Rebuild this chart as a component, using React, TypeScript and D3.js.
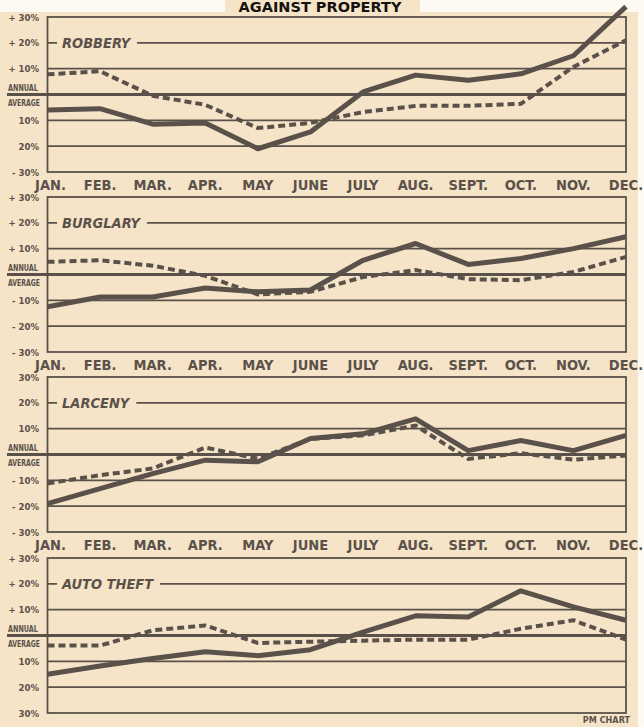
import { useEffect, useRef } from 'react';
import * as d3 from 'd3';

// Month categories along the bottom of each panel
const MONTHS = ['JAN.', 'FEB.', 'MAR.', 'APR.', 'MAY', 'JUNE', 'JULY', 'AUG.', 'SEPT.', 'OCT.', 'NOV.', 'DEC.'];
const CRIMES = ['ROBBERY', 'BURGLARY', 'LARCENY', 'AUTO THEFT'];

// % above / below annual average (solid and dashed series)
const ROBBERY_SOLID = [-6, -5.5, -11.5, -11, -21, -14.5, 1, 7.5, 5.5, 8, 15, 34];
const ROBBERY_DASHED = [7.8, 9, -0.5, -4, -13, -11, -6.8, -4.4, -4.4, -3.6, 10.7, 21];
const BURGLARY_SOLID = [-12.5, -8.7, -8.7, -5.2, -6.7, -6, 5.5, 12, 3.9, 6.2, 10, 14.6];
const BURGLARY_DASHED = [4.9, 5.5, 3.4, -0.5, -7.7, -6.7, -1, 1.7, -1.8, -2.2, 1, 6.8];
const LARCENY_SOLID = [-19, -13.2, -7.4, -2.2, -2.8, 6.2, 8, 13.8, 1.5, 5.4, 1.5, 7.4];
const LARCENY_DASHED = [-11.2, -8, -5.4, 2.7, -1.6, 6, 7.4, 11.2, -1.7, 0.5, -2, -0.4];
const AUTO_SOLID = [-15, -11.8, -8.9, -6.3, -7.8, -5.5, 1.3, 7.6, 7.2, 17.3, 11.1, 5.9];
const AUTO_DASHED = [-3.9, -3.9, 2, 3.9, -2.9, -2.4, -2, -1.6, -1.6, 2.6, 5.9, -1.6];

// y ticks and their printed labels (0 is the annual average line)
const TICK_VALUES = [30, 20, 10, 0, -10, -20, -30];
const ROBBERY_TICKS = ['+ 30%', '+ 20%', '+ 10%', '', '10%', '20%', '- 30%'];
const BURGLARY_TICKS = ['+ 30%', '+ 20%', '+ 10%', '', '- 10%', '- 20%', '- 30%'];
const LARCENY_TICKS = ['30%', '20%', '10%', '', '- 10%', '- 20%', '- 30%'];
const AUTO_TICKS = ['+ 30%', '+ 20%', '+ 10%', '', '10%', '20%', '30%'];

const PAPER = '#f6e4c8';
const INK = '#5a514a';
const FONT = '"Liberation Sans Narrow", "DejaVu Sans Condensed", sans-serif';

export default function App() {
  const svgRef = useRef<SVGSVGElement>(null);

  useEffect(() => {
    document.body.style.margin = '0';
    if (!svgRef.current) return;
    const svg = d3.select(svgRef.current);
    svg.selectAll('*').remove();

    const width = 644;
    const height = 727;

    // paper
    svg.append('rect').attr('width', width).attr('height', height).attr('fill', '#fdfaf4');
    svg.append('rect').attr('x', 0).attr('y', 12).attr('width', 638).attr('height', height - 12).attr('fill', PAPER);
    svg.append('rect').attr('x', 225).attr('y', 0).attr('width', 195).attr('height', 14).attr('fill', PAPER);

    svg.append('text')
      .attr('x', 320)
      .attr('y', 12)
      .attr('text-anchor', 'middle')
      .attr('font-family', '"DejaVu Sans", sans-serif')
      .attr('font-size', '14.5px')
      .attr('font-weight', 700)
      .attr('fill', '#151210')
      .text('AGAINST PROPERTY');

    const panels = [
      { name: CRIMES[0], solid: ROBBERY_SOLID, dashed: ROBBERY_DASHED, ticks: ROBBERY_TICKS },
      { name: CRIMES[1], solid: BURGLARY_SOLID, dashed: BURGLARY_DASHED, ticks: BURGLARY_TICKS },
      { name: CRIMES[2], solid: LARCENY_SOLID, dashed: LARCENY_DASHED, ticks: LARCENY_TICKS },
      { name: CRIMES[3], solid: AUTO_SOLID, dashed: AUTO_DASHED, ticks: AUTO_TICKS },
    ];
    const panelTops = [17, 197, 377, 558];
    const panelHeight = 155;
    const left = 47.5;
    const right = 626;

    const x = d3.scalePoint<string>().domain(MONTHS).range([left, right]);

    panels.forEach((p, i) => {
      const top = panelTops[i];
      const y = d3.scaleLinear().domain([-30, 30]).range([top + panelHeight, top]);
      const g = svg.append('g');

      // grid lines at +/-10, +/-20
      g.selectAll('line.grid')
        .data(TICK_VALUES.filter(v => Math.abs(v) === 10 || Math.abs(v) === 20))
        .join('line')
        .attr('x1', left)
        .attr('x2', right)
        .attr('y1', d => y(d))
        .attr('y2', d => y(d))
        .attr('stroke', INK)
        .attr('stroke-width', 1.6);

      // frame
      g.append('rect')
        .attr('x', left)
        .attr('y', top)
        .attr('width', right - left)
        .attr('height', panelHeight)
        .attr('fill', 'none')
        .attr('stroke', INK)
        .attr('stroke-width', 1.8);

      // annual average line, runs under the label
      g.append('line')
        .attr('x1', 7)
        .attr('x2', right)
        .attr('y1', y(0))
        .attr('y2', y(0))
        .attr('stroke', INK)
        .attr('stroke-width', 3);

      // crime name sitting on the +20% line
      const nameBg = g.append('rect').attr('fill', PAPER);
      const name = g.append('text')
        .attr('x', 62)
        .attr('y', y(20) + 5.5)
        .attr('font-family', FONT)
        .attr('font-size', '14.5px')
        .attr('font-weight', 700)
        .attr('font-style', 'italic')
        .attr('fill', INK)
        .text(p.name);
      const nameLen = (name.node() as SVGTextElement).getComputedTextLength();
      nameBg
        .attr('x', 57)
        .attr('y', y(20) - 4)
        .attr('width', nameLen + 12)
        .attr('height', 8);

      // tick labels
      TICK_VALUES.forEach((v, k) => {
        if (v === 0) return;
        g.append('text')
          .attr('x', 39)
          .attr('y', y(v) + 3.5)
          .attr('text-anchor', 'end')
          .attr('font-family', FONT)
          .attr('font-size', '9.5px')
          .attr('font-weight', 700)
          .attr('fill', INK)
          .text(p.ticks[k]);
      });
      g.append('text')
        .attr('x', 8)
        .attr('y', y(0) - 4)
        .attr('font-family', FONT)
        .attr('font-size', '9px')
        .attr('font-weight', 700)
        .attr('fill', INK)
        .attr('textLength', 30)
        .attr('lengthAdjust', 'spacingAndGlyphs')
        .text('ANNUAL');
      g.append('text')
        .attr('x', 8)
        .attr('y', y(0) + 11)
        .attr('font-family', FONT)
        .attr('font-size', '9px')
        .attr('font-weight', 700)
        .attr('fill', INK)
        .attr('textLength', 32)
        .attr('lengthAdjust', 'spacingAndGlyphs')
        .text('AVERAGE');

      // series
      const line = d3.line<number>()
        .x((_, j) => x(MONTHS[j]) as number)
        .y(d => y(d));

      g.append('path')
        .attr('d', line(p.dashed))
        .attr('fill', 'none')
        .attr('stroke', INK)
        .attr('stroke-width', 4)
        .attr('stroke-dasharray', '7,4');

      g.append('path')
        .attr('d', line(p.solid))
        .attr('fill', 'none')
        .attr('stroke', INK)
        .attr('stroke-width', 5)
        .attr('stroke-linejoin', 'round');

      // month labels (not under the last panel)
      if (i < panels.length - 1) {
        g.selectAll('text.month')
          .data(MONTHS)
          .join('text')
          .attr('class', 'month')
          .attr('x', (d, j) => (x(d) as number) + (j === 0 ? 3 : 0))
          .attr('y', top + panelHeight + 18)
          .attr('text-anchor', 'middle')
          .attr('font-family', FONT)
          .attr('font-size', '14.5px')
          .attr('font-weight', 700)
          .attr('fill', INK)
          .text(d => d);
      }
    });

    svg.append('text')
      .attr('x', 630)
      .attr('y', 723)
      .attr('text-anchor', 'end')
      .attr('font-family', FONT)
      .attr('font-size', '9px')
      .attr('font-weight', 700)
      .attr('fill', INK)
      .text('PM CHART');
  }, []);

  return <svg ref={svgRef} width={644} height={727} style={{ display: 'block' }} />;
}
